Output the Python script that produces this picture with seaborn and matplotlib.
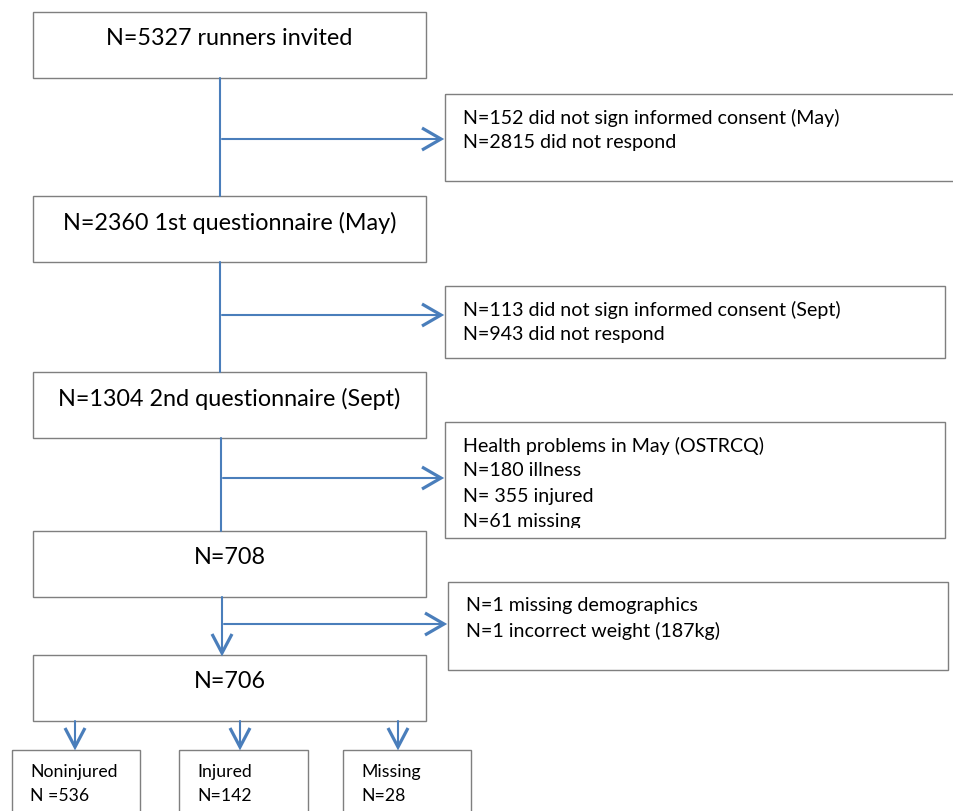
import matplotlib
matplotlib.use("Agg")
import matplotlib.pyplot as plt
import seaborn as sns
from matplotlib.patches import Rectangle
from matplotlib.transforms import Bbox, TransformedBbox

sns.set_style("white")
plt.rcParams["font.family"] = ["Lato", "DejaVu Sans"]

# ===================================
# Flowchart content
# ===================================

main_labels = [
    "N=5327 runners invited",
    "N=2360 1st questionnaire (May)",
    "N=1304 2nd questionnaire (Sept)",
    "N=708",
    "N=706",
]

side_labels = [
    ["N=152 did not sign informed consent (May)", "N=2815 did not respond"],
    ["N=113 did not sign informed consent (Sept)", "N=943 did not respond"],
    ["Health problems in May (OSTRCQ)", "N=180 illness", "N= 355 injured", "N=61 missing"],
    ["N=1 missing demographics", "N=1 incorrect weight (187kg)"],
]

group_names = ["Noninjured", "Injured", "Missing"]
group_counts = ["N =536", "N=142", "N=28"]

# layout (pixel space)
main_box_top = [12, 196, 372, 531, 655]
main_box_h = 66
main_x0, main_x1 = 33, 426

side_boxes = [  # x0, y0, x1, y1, text x
    (445, 94, 962, 181, 463),
    (445, 286, 945, 358, 463),
    (445, 422, 945, 538, 463),
    (448, 582, 948, 670, 466),
]
branch_y = [139, 315, 478, 624]
stem_x = [220, 220, 221, 222]

group_boxes = [(12, 140), (179, 308), (343, 471)]
group_arrow_x = [75, 240, 398]
group_top = 750

line_col = "#4a7ebb"
edge_col = "#7f7f7f"

fig = plt.figure(figsize=(9.54, 8.11), dpi=100)
ax = fig.add_axes([0, 0, 1, 1])
ax.set_xlim(0, 954)
ax.set_ylim(811, 0)
ax.axis("off")


def chevron(x, y, direction):
    if direction == "right":
        xs, ys = [x - 19, x, x - 19], [y - 11, y, y + 11]
    else:
        xs, ys = [x - 10, x, x + 10], [y - 19, y, y - 19]
    ax.plot(xs, ys, color=line_col, lw=2.3, solid_joinstyle="miter",
            solid_capstyle="butt")


# main boxes
for label, top in zip(main_labels, main_box_top):
    ax.add_patch(Rectangle((main_x0, top), main_x1 - main_x0, main_box_h,
                           fill=False, edgecolor=edge_col, lw=1))
    ax.text((main_x0 + main_x1) / 2, top + 26.5, label, ha="center",
            va="center", fontsize=16.8, color="black")

# side boxes
for lines, (x0, y0, x1, y1, tx) in zip(side_labels, side_boxes):
    ax.add_patch(Rectangle((x0, y0), x1 - x0, y1 - y0, fill=False,
                           edgecolor=edge_col, lw=1))
    # text area stops short of the box bottom, overflow is cut off
    clip_box = TransformedBbox(Bbox([[x0, y0], [x1, y1 - 10]]), ax.transData)
    for i, line in enumerate(lines):
        t = ax.text(tx, y0 + 23.5 + i * 25.4, line, ha="left", va="center",
                    fontsize=14.1, color="black")
        t.set_clip_path(None)
        t.set_clip_box(clip_box)
        t.set_clip_on(True)

# connectors
for i in range(4):
    sx = stem_x[i]
    y_start = main_box_top[i] + main_box_h
    y_end = main_box_top[i + 1]
    if i == 3:
        ax.plot([sx, sx], [y_start, y_end - 3], color=line_col, lw=1.5)
        chevron(sx, y_end - 2, "down")
    else:
        ax.plot([sx, sx], [y_start, y_end], color=line_col, lw=1.5)
    tip = side_boxes[i][0] - 4
    ax.plot([sx + 2, tip], [branch_y[i], branch_y[i]], color=line_col, lw=1.5)
    chevron(tip, branch_y[i], "right")

# outcome groups
last_bottom = main_box_top[-1] + main_box_h
for name, count, (x0, x1), ax_x in zip(group_names, group_counts,
                                       group_boxes, group_arrow_x):
    ax.plot([ax_x, ax_x], [last_bottom, group_top - 4], color=line_col, lw=1.5)
    chevron(ax_x, group_top - 3, "down")
    ax.add_patch(Rectangle((x0, group_top), x1 - x0, 80, fill=False,
                           edgecolor=edge_col, lw=1))
    ax.text(x0 + 18, group_top + 22, name, ha="left", va="center",
            fontsize=12.7, color="black")
    ax.text(x0 + 18, group_top + 46, count, ha="left", va="center",
            fontsize=12.7, color="black")

fig.savefig("out.png", dpi=100, facecolor="white")
